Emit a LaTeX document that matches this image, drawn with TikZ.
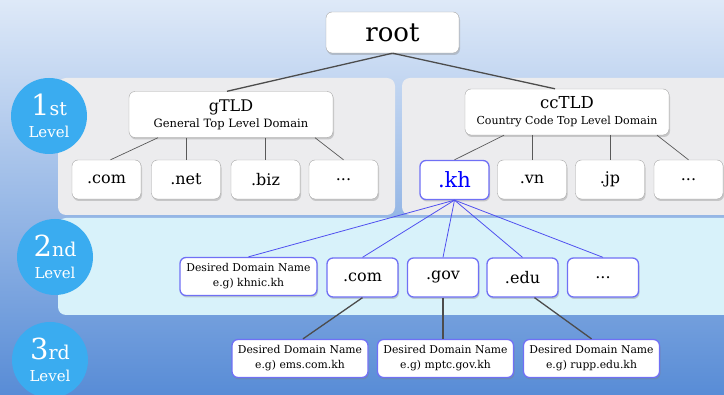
\documentclass[tikz,border=0pt]{standalone}
\usepackage{fontspec}
\setmainfont{DejaVu Serif}
\usepackage{tikz}
\usetikzlibrary{shadows}
\definecolor{bgtop}{RGB}{222,233,248}
\definecolor{bgmid}{RGB}{140,178,230}
\definecolor{bgbot}{RGB}{88,140,214}
\definecolor{lvlblue}{RGB}{58,172,240}
\definecolor{panelgray}{RGB}{236,236,238}
\definecolor{panelcyan}{RGB}{216,242,250}
\definecolor{boxblue}{RGB}{112,112,245}
\definecolor{linkblue}{RGB}{80,80,240}
\tikzset{
	box/.style={draw=gray!70, fill=white, rounded corners=6pt, inner sep=0pt,
		drop shadow={shadow xshift=1pt, shadow yshift=-2pt, opacity=.35}},
	leaf/.style={box, minimum width=69pt, minimum height=39pt, font=\fontsize{16}{18}\selectfont},
	tld/.style={box, minimum width=204pt, minimum height=46pt, align=center,
		font=\fontsize{11.5}{16}\selectfont},
	desired/.style={box, minimum width=136pt, minimum height=38pt, align=center,
		font=\fontsize{10.8}{15}\selectfont},
	bluebox/.style={draw=boxblue, line width=1.3pt},
	lvl/.style={circle, fill=lvlblue, minimum size=76pt, inner sep=0pt, text=white, align=center,
		font=\fontsize{15}{22}\selectfont},
	graylink/.style={draw=black!65, line width=0.7pt},
	thicklink/.style={draw=black!70, line width=1.3pt},
	bluelink/.style={draw=linkblue, line width=0.8pt}
}
\newcommand{\lvltext}[2]{{\fontsize{29}{29}\selectfont #1}{\fontsize{19}{19}\selectfont #2}\\Level}
\begin{document}
\begin{tikzpicture}[x=1pt,y=-1pt]
	\useasboundingbox (0,0) rectangle (724,395);
	\clip (0,0) rectangle (724,395);
	\shade[top color=bgtop, middle color=bgmid, bottom color=bgbot] (0,0) rectangle (724,395);
	% panels
	\fill[panelgray, rounded corners=8pt] (58,78) rectangle (395,215);
	\fill[panelgray, rounded corners=8pt] (402,78) rectangle (740,215);
	\fill[panelcyan, rounded corners=8pt] (58,218) rectangle (740,315);
	% levels
	\node[lvl] (lvl1) at (49,116) {\lvltext{1}{st}};
	\node[lvl] (lvl2) at (55,257) {\lvltext{2}{nd}};
	\node[lvl] (lvl3) at (50,360) {\lvltext{3}{rd}};
	% root and top level
	\node[box, minimum width=133pt, minimum height=41pt, font=\fontsize{26}{28}\selectfont] (root) at (392.5,32.5) {root};
	\node[tld] (gtld) at (231,114.5) {{\fontsize{16}{16}\selectfont gTLD}\\General Top Level Domain};
	\node[tld, font=\fontsize{11}{16}\selectfont] (cctld) at (567,112) {{\fontsize{16.5}{16}\selectfont ccTLD}\\Country Code Top Level Domain};
	\node[leaf] (com1) at (106.5,179.5) {.com};
	\node[leaf] (net1) at (186,179.5) {.net};
	\node[leaf] (biz1) at (265.5,179.5) {.biz};
	\node[leaf] (dots1) at (343.5,179.5) {...};
	\node[leaf, bluebox, text=blue, font=\fontsize{21}{23}\selectfont] (kh) at (454.5,180) {.kh};
	\node[leaf] (vn) at (532,179.5) {.vn};
	\node[leaf] (jp) at (610,179.5) {.jp};
	\node[leaf] (dots2) at (688.5,179.5) {...};
	% second level
	\node[desired, bluebox, minimum width=137pt] (khnic) at (248.5,276.5) {Desired Domain Name\\e.g) khnic.kh};
	\node[leaf, bluebox, minimum width=71pt] (com2) at (362.5,277.5) {.com};
	\node[leaf, bluebox, minimum width=71pt] (gov2) at (443,277.5) {.gov};
	\node[leaf, bluebox, minimum width=71pt] (edu2) at (522.5,277.5) {.edu};
	\node[leaf, bluebox, minimum width=71pt] (dots3) at (603,277.5) {...};
	% third level
	\node[desired, bluebox] (ems) at (300,358.5) {Desired Domain Name\\e.g) ems.com.kh};
	\node[desired, bluebox] (mptc) at (445.5,358.5) {Desired Domain Name\\e.g) mptc.gov.kh};
	\node[desired, bluebox] (rupp) at (591.5,358.5) {Desired Domain Name\\e.g) rupp.edu.kh};
	% links
	\draw[thicklink] (root.south) -- ([xshift=-4pt]gtld.north);
	\draw[thicklink] (root.south) -- ([xshift=-12pt]cctld.north);
	\draw[graylink] ([xshift=-73pt]gtld.south) -- ([xshift=4pt]com1.north);
	\draw[graylink] (gtld.south -| net1.north) -- (net1.north);
	\draw[graylink] (gtld.south -| biz1.north) -- (biz1.north);
	\draw[graylink] ([xshift=84pt]gtld.south) -- (dots1.north);
	\draw[graylink] ([xshift=-63pt]cctld.south) -- (kh.north);
	\draw[graylink] (cctld.south -| vn.north) -- (vn.north);
	\draw[graylink] (cctld.south -| jp.north) -- (jp.north);
	\draw[graylink] ([xshift=90pt]cctld.south) -- (dots2.north);
	\foreach \n in {khnic,com2,gov2,edu2,dots3}
		\draw[bluelink] (kh.south) -- (\n.north);
	\draw[thicklink] (com2.south) -- ([xshift=3pt]ems.north);
	\draw[thicklink] (gov2.south) -- (gov2.south |- mptc.north);
	\draw[thicklink] ([xshift=12pt]edu2.south) -- (rupp.north);
\end{tikzpicture}
\end{document}
